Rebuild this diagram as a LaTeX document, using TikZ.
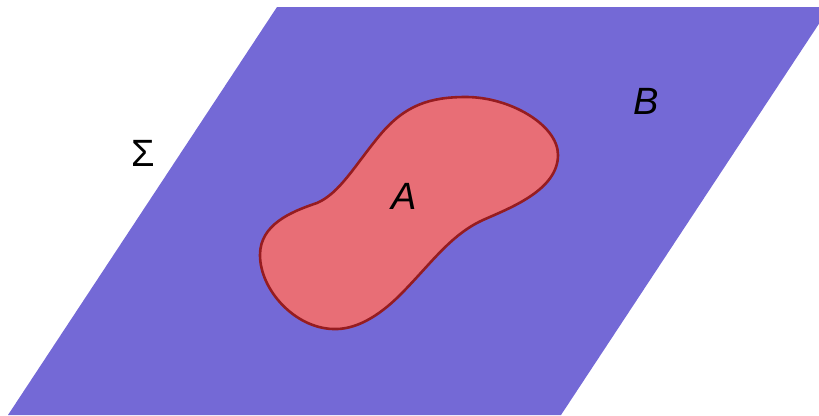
\documentclass[tikz,border=0pt]{standalone}
\usepackage{fontspec}
\setmainfont{Liberation Sans}
\usetikzlibrary{positioning}

\definecolor{planeblue}{RGB}{116,105,214}
\definecolor{setred}{RGB}{232,110,118}
\definecolor{setedge}{RGB}{150,28,32}

\begin{document}
\begin{tikzpicture}[
  x=1pt, y=-1pt,
  plane/.style={fill=planeblue, draw=none},
  blob/.style={fill=setred, draw=setedge, line width=2.6pt, line join=round},
  lbl/.style={font=\fontsize{38}{40}\selectfont, text=black, inner sep=0pt}
]
\clip (0,0) rectangle (819,415);
% the plane
\fill[plane] (277,7) -- (830,7) -- (561,415) -- (8,415) -- cycle;
% the set A
\draw[blob] (317,203) .. controls (340,193) and (355,165) .. (380,135)
  .. controls (405,105) and (430,97) .. (466,97)
  .. controls (510,97) and (558,125) .. (558,155)
  .. controls (558,190) and (510,208) .. (483,220)
  .. controls (450,235) and (430,265) .. (400,295)
  .. controls (378,317) and (355,330) .. (333,329)
  .. controls (295,328) and (260,290) .. (260,255)
  .. controls (260,225) and (290,212) .. cycle;
% labels
\node[lbl] (sigma) at (143,153) {Σ};
\node[lbl] (labelB) at (646,101) {\itshape B};
\node[lbl] (labelA) at (404,196) {\itshape A};
\end{tikzpicture}
\end{document}
